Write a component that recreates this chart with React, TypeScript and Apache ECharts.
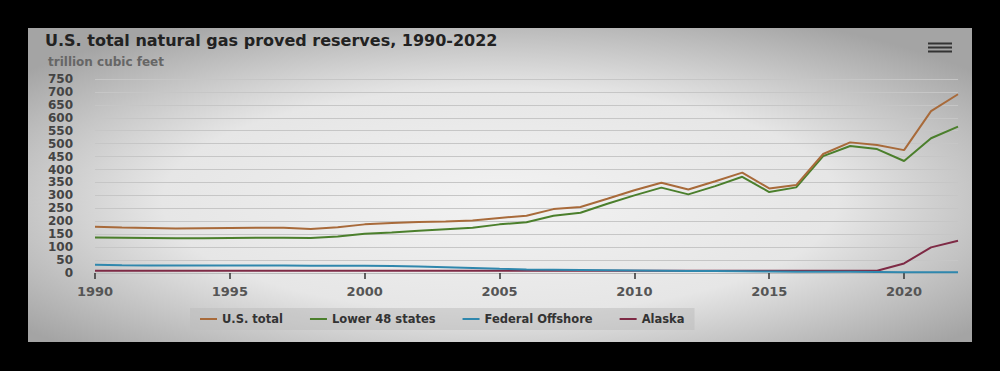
import React, { useEffect, useRef } from "react";
import * as echarts from "echarts";

const years = [
  "1990", "1991", "1992", "1993", "1994", "1995", "1996", "1997", "1998", "1999",
  "2000", "2001", "2002", "2003", "2004", "2005", "2006", "2007", "2008", "2009",
  "2010", "2011", "2012", "2013", "2014", "2015", "2016", "2017", "2018", "2019",
  "2020", "2021", "2022",
];

const usTotal = [
  179, 176, 174, 172, 173, 174, 175, 175, 170, 177,
  188, 193, 197, 199, 203, 213, 221, 247, 255, 287,
  320, 349, 323, 355, 388, 327, 340, 460, 505, 495,
  475, 626, 691,
];

const lower48 = [
  137, 136, 135, 134, 134, 135, 136, 136, 135, 141,
  152, 157, 163, 169, 175, 188, 196, 221, 233, 268,
  300, 330, 304, 336, 372, 313, 331, 452, 491, 479,
  433, 521, 566,
];

const federalOffshore = [
  32, 30, 29, 29, 29, 29, 29, 29, 28, 28,
  28, 27, 25, 22, 19, 16, 14, 13, 12, 11,
  10, 9, 8, 8, 7, 6, 5, 5, 5, 4,
  3, 3, 3,
];

const alaska = [
  9, 9, 9, 9, 9, 9, 9, 9, 9, 9,
  9, 9, 9, 9, 9, 9, 9, 9, 9, 9,
  9, 9, 9, 9, 9, 9, 9, 9, 9, 9,
  37, 99, 125,
];

const seriesNames = ["U.S. total", "Lower 48 states", "Federal Offshore", "Alaska"];
const seriesColors = ["#a86a3a", "#4b7f2c", "#2f87ad", "#7e2a45"];

const FONT = "DejaVu Sans";

export default function App() {
  const ref = useRef<HTMLDivElement>(null);

  useEffect(() => {
    if (!ref.current) return;
    const chart = echarts.init(ref.current, undefined, { renderer: "svg" });
    const dataSets = [usTotal, lower48, federalOffshore, alaska];
    chart.setOption({
      animation: false,
      backgroundColor: "#000",
      title: [
        {
          text: "U.S. total natural gas proved reserves, 1990-2022",
          left: 45,
          top: 32,
          padding: 0,
          textStyle: { fontFamily: FONT, fontSize: 16, fontWeight: "bold", color: "#222" },
        },
        {
          text: "trillion cubic feet",
          left: 48,
          top: 56,
          padding: 0,
          textStyle: { fontFamily: FONT, fontSize: 12, fontWeight: "bold", color: "#666" },
        },
      ],
      graphic: [
        {
          type: "rect",
          z: -10,
          silent: true,
          shape: { x: 28, y: 28, width: 944, height: 314 },
          style: {
            fill: new echarts.graphic.RadialGradient(0.5, 0.55, 0.65, [
              { offset: 0, color: "#f2f2f2" },
              { offset: 0.55, color: "#e6e6e6" },
              { offset: 1, color: "#a4a4a4" },
            ]),
          },
        },
        { type: "line", shape: { x1: 928, y1: 43.5, x2: 952, y2: 43.5 }, style: { stroke: "#333", lineWidth: 2 } },
        { type: "line", shape: { x1: 928, y1: 47.5, x2: 952, y2: 47.5 }, style: { stroke: "#333", lineWidth: 2 } },
        { type: "line", shape: { x1: 928, y1: 51.5, x2: 952, y2: 51.5 }, style: { stroke: "#333", lineWidth: 2 } },
      ],
      legend: {
        data: seriesNames,
        left: 190,
        top: 308,
        padding: [5, 10, 5, 10],
        backgroundColor: "rgba(190,190,190,0.55)",
        icon: "rect",
        itemWidth: 17,
        itemHeight: 2,
        itemGap: 27,
        textStyle: { fontFamily: FONT, fontSize: 11.5, fontWeight: "bold", color: "#333" },
      },
      grid: { left: 95, right: 42, top: 79, bottom: 98 },
      xAxis: {
        type: "category",
        data: years,
        boundaryGap: false,
        axisLine: { show: true, lineStyle: { color: "#bbb" } },
        axisTick: { show: true, interval: 4, length: 6, lineStyle: { color: "#333", width: 1.5 } },
        axisLabel: {
          interval: 4,
          margin: 12,
          fontFamily: FONT,
          fontSize: 13,
          fontWeight: "bold",
          color: "#555",
        },
        splitLine: { show: false },
      },
      yAxis: {
        type: "value",
        min: 0,
        max: 750,
        interval: 50,
        axisLine: { show: false },
        axisTick: { show: false },
        axisLabel: {
          margin: 22,
          fontFamily: FONT,
          fontSize: 12,
          fontWeight: "bold",
          color: "#444",
        },
        splitLine: { lineStyle: { color: "#c6c6c6", width: 1 } },
      },
      series: seriesNames.map((name, i) => ({
        name,
        type: "line",
        data: dataSets[i],
        symbol: "none",
        showSymbol: false,
        color: seriesColors[i],
        lineStyle: { width: 2, color: seriesColors[i] },
        z: 10 - i,
      })),
    });
    return () => chart.dispose();
  }, []);

  return (
    <div
      ref={ref}
      style={{ position: "fixed", left: 0, top: 0, width: 1000, height: 371, background: "#000" }}
    />
  );
}
